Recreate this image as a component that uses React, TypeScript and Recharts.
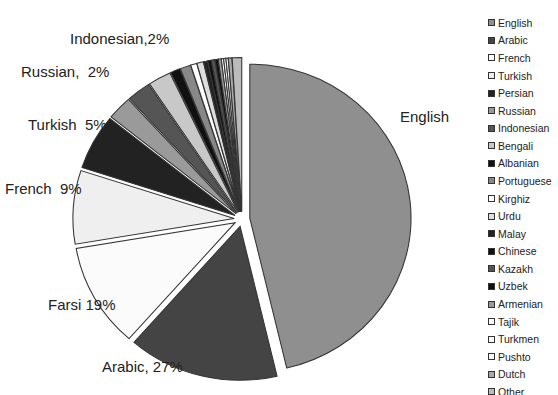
import React from 'react';
import { PieChart, Pie, Cell, Sector, Legend } from 'recharts';

const LANGUAGES = [
  'English', 'Arabic', 'French', 'Turkish', 'Persian', 'Russian', 'Indonesian',
  'Bengali', 'Albanian', 'Portuguese', 'Kirghiz', 'Urdu', 'Malay', 'Chinese',
  'Kazakh', 'Uzbek', 'Armenian', 'Tajik', 'Turkmen', 'Pushto', 'Dutch', 'Other',
];
const SHARES = [
  46.3, 15.1, 10.9, 7.7, 5.8, 2.5, 2.4, 2.3, 1.0, 1.05, 0.6, 0.65, 0.4, 0.35,
  0.35, 0.3, 0.3, 0.22, 0.22, 0.22, 0.35, 0.95,
];
const COLORS = [
  '#8f8f8f', '#444444', '#fbfbfb', '#efefef', '#222222', '#9a9a9a', '#555555',
  '#c8c8c8', '#111111', '#888888', '#ffffff', '#dddddd', '#222222', '#111111',
  '#555555', '#111111', '#999999', '#ffffff', '#ffffff', '#ffffff', '#aaaaaa',
  '#bbbbbb',
];
const SLICE_LABELS = [
  { text: 'English', x: 400, y: 122 },
  { text: 'Indonesian,2%', x: 70, y: 44 },
  { text: 'Russian,\u00a0 2%', x: 21, y: 77 },
  { text: 'Turkish\u00a0 5%', x: 28, y: 130 },
  { text: 'French\u00a0 9%', x: 5, y: 194 },
  { text: 'Farsi 19%', x: 48, y: 310 },
  { text: 'Arabic, 27%', x: 102, y: 372 },
];

const data = LANGUAGES.map((name, i) => ({ name, value: SHARES[i] }));

const RAD = Math.PI / 180;
const EXPLODE = 7.5;
const X_STRETCH = 1.047;

const ExplodedSector = (props: any) => {
  const { cx, cy, startAngle, endAngle } = props;
  const mid = (startAngle + endAngle) / 2;
  const dx = EXPLODE * Math.cos(mid * RAD);
  const dy = -EXPLODE * Math.sin(mid * RAD);
  return (
    <g transform={`translate(${cx},${cy}) scale(${X_STRETCH},1) translate(${-cx},${-cy})`}>
      <Sector {...props} cx={cx + dx} cy={cy + dy} />
    </g>
  );
};

const LegendContent = (props: any) => {
  const payload = [...(props.payload || [])].sort(
    (a: any, b: any) => LANGUAGES.indexOf(a.value) - LANGUAGES.indexOf(b.value),
  );
  return (
    <div style={{ fontFamily: 'Liberation Sans, Arial, sans-serif', fontSize: 10.5, color: '#222' }}>
      {payload.map((entry: any, i: number) => {
        const idx = LANGUAGES.indexOf(entry.value);
        const color = COLORS[idx >= 0 ? idx : i];
        return (
          <div key={i} style={{ height: 17.58, display: 'flex', alignItems: 'center' }}>
            <span
              style={{
                display: 'inline-block',
                width: 5,
                height: 5,
                background: color,
                border: '1px solid #333',
                marginRight: 3,
              }}
            />
            <span>{entry.value}</span>
          </div>
        );
      })}
    </div>
  );
};

export default function App() {
  return (
    <div style={{ position: 'absolute', left: 0, top: 0, width: 558, height: 395, background: '#fff' }}>
      <PieChart width={558} height={395} margin={{ top: 0, right: 0, bottom: 0, left: 0 }}>
        <Pie
          data={data}
          dataKey="value"
          nameKey="name"
          cx={242}
          cy={219}
          outerRadius={154}
          startAngle={90}
          endAngle={-270}
          stroke="#333"
          strokeWidth={1}
          isAnimationActive={false}
          shape={ExplodedSector}
          activeShape={ExplodedSector}
          inactiveShape={ExplodedSector}
          label={false}
          labelLine={false}
        >
          {data.map((d, i) => (
            <Cell key={d.name} fill={COLORS[i]} />
          ))}
        </Pie>
        <Legend
          layout="vertical"
          align="right"
          verticalAlign="top"
          content={LegendContent}
          wrapperStyle={{ position: 'absolute', left: 488, top: 14, width: 70 }}
        />
      </PieChart>
      <svg
        width={558}
        height={395}
        style={{ position: 'absolute', left: 0, top: 0, pointerEvents: 'none' }}
      >
        {SLICE_LABELS.map((l) => (
          <text
            key={l.text}
            x={l.x}
            y={l.y}
            fontFamily="Liberation Sans, Arial, sans-serif"
            fontSize={15}
            fill="#222"
          >
            {l.text}
          </text>
        ))}
      </svg>
    </div>
  );
}
